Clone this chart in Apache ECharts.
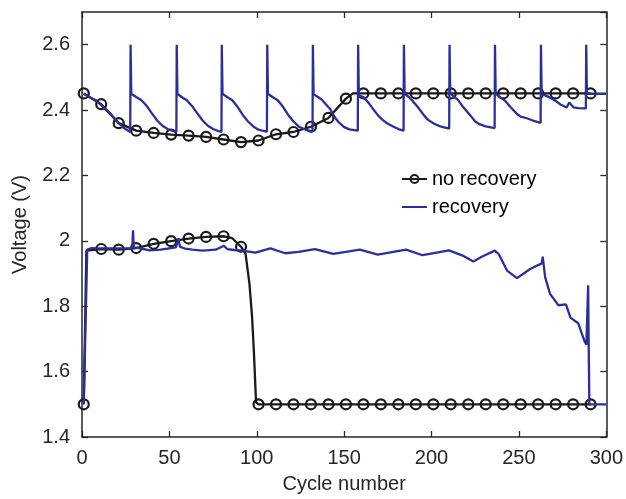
<!DOCTYPE html>
<html>
<head>
<meta charset="utf-8">
<script src="https://cdn.jsdelivr.net/npm/echarts@6/dist/echarts.min.js"></script>
<style>
  html, body { margin: 0; padding: 0; background: #fff; }
  #chart { width: 626px; height: 499px; }
</style>
</head>
<body>
<div id="chart"></div>
<script>
// x tick labels and y tick labels
const xTicks = [0, 50, 100, 150, 200, 250, 300]
const yTicks = [1.4, 1.6, 1.8, 2, 2.2, 2.4, 2.6]

// cycles that carry a circle marker on the "no recovery" curve
const markerCycles = [1, 11, 21, 31, 41, 51, 61, 71, 81, 91, 101, 111, 121, 131, 141, 151,
  161, 171, 181, 191, 201, 211, 221, 231, 241, 251, 261, 271, 281, 291]

// no recovery, upper branch
const noRecUpperCycle = [1, 11, 21, 31, 41, 51, 61, 71, 81, 91, 101, 111, 121, 131, 141, 151, 155,
  161, 171, 181, 191, 201, 211, 221, 231, 241, 251, 261, 271, 281, 291]
const noRecUpperVolt = [2.451, 2.418, 2.360, 2.337, 2.330, 2.325, 2.322, 2.318, 2.310, 2.302, 2.307,
  2.326, 2.333, 2.349, 2.376, 2.435, 2.451,
  2.451, 2.451, 2.451, 2.451, 2.451, 2.451, 2.451, 2.451, 2.451, 2.451, 2.451, 2.451, 2.451, 2.451]

// no recovery, lower branch
const noRecLowerCycle = [1, 2.5, 11, 21, 31, 41, 51, 61, 71, 81, 86, 91, 93.6, 95.8, 97.3, 98.3, 99.6,
  101, 111, 121, 131, 141, 151, 161, 171, 181, 191, 201, 211, 221, 231, 241, 251, 261, 271, 281, 291]
const noRecLowerVolt = [1.5, 1.97, 1.975, 1.973, 1.978, 1.991, 1.999, 2.007, 2.012, 2.014, 2.008, 1.982,
  1.96, 1.869, 1.768, 1.667, 1.506,
  1.5, 1.5, 1.5, 1.5, 1.5, 1.5, 1.5, 1.5, 1.5, 1.5, 1.5, 1.5, 1.5, 1.5, 1.5, 1.5, 1.5, 1.5, 1.5, 1.5]

// recovery, upper branch
const recUpperCycle = [1, 4, 8, 12, 16, 20, 24, 27.6,
  27.8, 28.2, 31, 34, 37, 40, 43, 46, 49, 52, 54.0,
  54.2, 54.6, 57, 60, 63, 66, 69, 72, 75, 78, 79.8,
  80.0, 80.4, 83, 86, 89, 92, 95, 98, 101, 104, 105.8,
  106.0, 106.4, 109, 112, 115, 118, 121, 124, 127, 130, 131.9,
  132.1, 132.5, 135, 137, 140, 142, 145, 147, 150, 153, 157.8,
  158.0, 158.4, 161, 164, 167, 169.5, 172, 175, 178, 181, 184.0,
  184.2, 184.6, 187, 189.2, 192, 195.8, 198, 201.5, 205, 210.1,
  210.3, 210.7, 213, 215, 218, 222.3, 225, 227, 231, 236.1,
  236.3, 236.7, 239, 242.2, 245, 248.9, 251, 254.5, 258, 262.4,
  262.6, 263.0, 265, 267.8, 270.5, 273.5, 277.3, 278.8, 279.5, 281.3, 284, 288.3,
  288.5, 288.9, 300]
const recUpperVolt = [2.45, 2.44, 2.43, 2.41, 2.39, 2.365, 2.345, 2.333,
  2.6, 2.45, 2.44, 2.43, 2.413, 2.39, 2.368, 2.352, 2.342, 2.336, 2.333,
  2.6, 2.45, 2.44, 2.43, 2.412, 2.39, 2.368, 2.352, 2.342, 2.336, 2.333,
  2.6, 2.45, 2.44, 2.43, 2.41, 2.385, 2.365, 2.35, 2.34, 2.336, 2.334,
  2.6, 2.45, 2.44, 2.43, 2.41, 2.385, 2.365, 2.35, 2.342, 2.337, 2.335,
  2.6, 2.448, 2.44, 2.433, 2.415, 2.403, 2.375, 2.362, 2.348, 2.341, 2.337,
  2.6, 2.445, 2.44, 2.422, 2.4, 2.383, 2.37, 2.358, 2.35, 2.342, 2.337,
  2.6, 2.45, 2.44, 2.428, 2.41, 2.383, 2.37, 2.358, 2.35, 2.343,
  2.6, 2.452, 2.44, 2.432, 2.41, 2.383, 2.365, 2.358, 2.35, 2.345,
  2.6, 2.45, 2.44, 2.428, 2.41, 2.388, 2.38, 2.375, 2.368, 2.361,
  2.6, 2.45, 2.445, 2.438, 2.43, 2.418, 2.408, 2.423, 2.418, 2.408, 2.406, 2.405,
  2.6, 2.45, 2.45]

// recovery, lower branch
const recLowerCycle = [1, 3, 5.5, 10, 20, 28.8, 29.2, 29.6, 33, 38.6, 45, 53.7, 55.2, 56, 59, 63.2,
  68.9, 76.5, 81.2, 83.1, 87, 91.7, 99.2, 107.8, 116.3, 123.9, 133.3, 143.8, 158.9, 169.3, 185.4,
  194.9, 210, 217.8, 223.9, 229, 236.2, 238.5, 243.2, 248.9, 256.4, 263.1, 263.6, 265, 267.8,
  272.6, 276.9, 279.5, 283.9, 287.6, 288.6, 289.6, 289.9, 290.3, 300]
const recLowerVolt = [1.5, 1.973, 1.978, 1.977, 1.977, 1.978, 2.032, 1.98, 1.978, 1.971, 1.973, 1.98,
  2.008, 1.982, 1.976, 1.973, 1.970, 1.973, 1.985, 1.975, 1.972, 1.970, 1.964, 1.977, 1.962, 1.966,
  1.975, 1.960, 1.973, 1.958, 1.973, 1.956, 1.971, 1.955, 1.937, 1.952, 1.970, 1.959, 1.909, 1.886,
  1.914, 1.931, 1.952, 1.889, 1.838, 1.803, 1.806, 1.765, 1.748, 1.692, 1.682, 1.864, 1.69, 1.5, 1.5]

const axisColor = '#262626'
const blackLine = '#1a1a1a'
const blueLine = '#2b2f9c'
const fontFamily = 'Liberation Sans, Arial, Helvetica, sans-serif'

function withMarkers(cycles, volts) {
  return cycles.map((c, i) => ({
    value: [c, volts[i]],
    symbol: markerCycles.includes(c) ? 'circle' : 'none'
  }))
}
function pairs(cycles, volts) {
  return cycles.map((c, i) => [c, volts[i]])
}

const chart = echarts.init(document.getElementById('chart'))

const noRecStyle = {
  type: 'line',
  name: 'no recovery',
  xAxisIndex: 0,
  yAxisIndex: 0,
  showSymbol: true,
  showAllSymbol: true,
  symbol: 'circle',
  symbolSize: 10,
  lineStyle: { color: blackLine, width: 2.3 },
  itemStyle: { color: 'transparent', borderColor: blackLine, borderWidth: 2.2 },
  emphasis: { disabled: true },
  z: 2,
  animation: false
}
const recStyle = {
  type: 'line',
  name: 'recovery',
  xAxisIndex: 0,
  yAxisIndex: 0,
  symbol: 'none',
  lineStyle: { color: blueLine, width: 2.3 },
  itemStyle: { color: blueLine },
  emphasis: { disabled: true },
  z: 3,
  animation: false
}

const option = {
  backgroundColor: '#fff',
  animation: false,
  grid: { left: 82, right: 14, top: 12, bottom: 57 },
  legend: {
    data: [
      { name: 'no recovery' },
      { name: 'recovery', itemStyle: { color: 'transparent', borderColor: 'transparent', borderWidth: 0 } }
    ],
    orient: 'vertical',
    left: 396,
    top: 164,
    itemWidth: 25,
    itemHeight: 10,
    itemGap: 8,
    textStyle: { color: '#000', fontSize: 20, fontFamily: fontFamily },
    selectedMode: false
  },
  xAxis: [
    {
      type: 'value',
      min: 0,
      max: 300,
      interval: 50,
      name: 'Cycle number',
      nameLocation: 'middle',
      nameGap: 37,
      nameTextStyle: { color: axisColor, fontSize: 20, fontFamily: fontFamily },
      axisLine: { onZero: false, lineStyle: { color: axisColor, width: 1.5 } },
      axisTick: { inside: true, length: 6, lineStyle: { color: axisColor, width: 1.3 } },
      axisLabel: {
        color: axisColor, fontSize: 20, fontFamily: fontFamily, margin: 11,
        formatter: v => xTicks.includes(v) ? String(v) : ''
      },
      splitLine: { show: false }
    },
    {
      type: 'value',
      position: 'top',
      min: 0,
      max: 300,
      interval: 50,
      axisLine: { onZero: false, lineStyle: { color: axisColor, width: 1.5 } },
      axisTick: { inside: true, length: 6, lineStyle: { color: axisColor, width: 1.3 } },
      axisLabel: { show: false },
      splitLine: { show: false }
    }
  ],
  yAxis: [
    {
      type: 'value',
      min: 1.4,
      max: 2.7,
      interval: 0.2,
      name: 'Voltage (V)',
      nameLocation: 'middle',
      nameGap: 52,
      nameTextStyle: { color: axisColor, fontSize: 20, fontFamily: fontFamily },
      axisLine: { onZero: false, lineStyle: { color: axisColor, width: 1.5 } },
      axisTick: { inside: true, length: 6, lineStyle: { color: axisColor, width: 1.3 } },
      axisLabel: {
        color: axisColor, fontSize: 20, fontFamily: fontFamily, margin: 12,
        showMaxLabel: false,
        formatter: v => {
          const t = yTicks.find(y => Math.abs(y - v) < 1e-6)
          return t === undefined ? '' : String(t)
        }
      },
      splitLine: { show: false }
    },
    {
      type: 'value',
      position: 'right',
      min: 1.4,
      max: 2.7,
      interval: 0.2,
      axisLine: { onZero: false, lineStyle: { color: axisColor, width: 1.5 } },
      axisTick: { inside: true, length: 6, lineStyle: { color: axisColor, width: 1.3 } },
      axisLabel: { show: false },
      splitLine: { show: false }
    }
  ],
  series: [
    Object.assign({}, noRecStyle, { data: withMarkers(noRecUpperCycle, noRecUpperVolt) }),
    Object.assign({}, noRecStyle, { data: withMarkers(noRecLowerCycle, noRecLowerVolt) }),
    Object.assign({}, recStyle, { data: pairs(recUpperCycle, recUpperVolt) }),
    Object.assign({}, recStyle, { data: pairs(recLowerCycle, recLowerVolt) })
  ]
}

chart.setOption(option)
</script>
</body>
</html>
